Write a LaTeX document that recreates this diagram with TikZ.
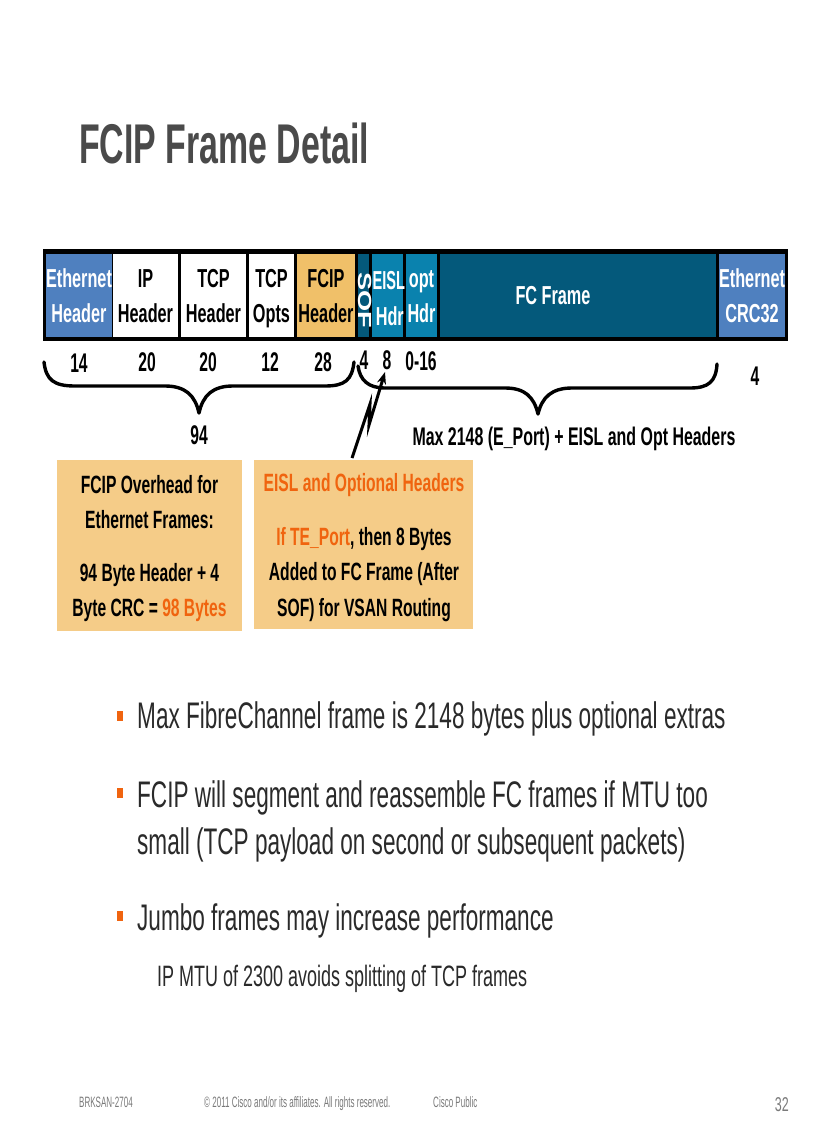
\documentclass[tikz,border=0pt]{standalone}
\usepackage{fontspec}
\setmainfont[FakeStretch=0.625]{Liberation Sans}
\newfontfamily\titlef[FakeStretch=0.605]{Liberation Sans}
\newfontfamily\cellf[FakeStretch=0.625]{Liberation Sans}
\newfontfamily\eislf[FakeStretch=0.56]{Liberation Sans}
\newfontfamily\numf[FakeStretch=0.58]{Liberation Sans}
\newfontfamily\bodyf[FakeStretch=0.61]{Liberation Sans}
\newfontfamily\footf[FakeStretch=0.535]{Liberation Sans}
\newfontfamily\soff[FakeStretch=1.43]{Liberation Sans}
\usetikzlibrary{arrows.meta}
\definecolor{ethblue}{HTML}{4F80BF}
\definecolor{fcteal}{HTML}{04597B}
\definecolor{eislblue}{HTML}{0A82AE}
\definecolor{fciptan}{HTML}{F0C069}
\definecolor{notetan}{HTML}{F5CC88}
\definecolor{hiorange}{HTML}{F0640F}
\definecolor{titlegrey}{HTML}{4A4A4A}
\definecolor{bodygrey}{HTML}{2A2A2A}
\definecolor{footgrey}{HTML}{7A7A7A}
\tikzset{
 cell/.style={anchor=north west,inner sep=0pt,outer sep=0pt,align=center,font=\cellf\fontsize{26}{35}\bfseries\selectfont},
 num/.style={font=\numf\fontsize{27}{28}\bfseries\selectfont,inner sep=0pt},
 note/.style={anchor=north west,inner sep=0pt,outer sep=0pt,fill=notetan,align=center,text=black},
 notefont/.style={font=\fontsize{25}{35.5}\bfseries\selectfont},
 bullettext/.style={anchor=west,inner sep=0pt,align=left,text=bodygrey,font=\bodyf\fontsize{37}{47}\selectfont},
 bulletmark/.style={fill=hiorange,minimum width=6pt,minimum height=10pt,inner sep=0pt},
 foot/.style={anchor=west,inner sep=0pt,text=footgrey,font=\footf\fontsize{15}{18}\selectfont},
 bracepath/.style={line width=3.4pt,line cap=round,line join=round}
}
\newcommand{\topl}{\rule{0pt}{24pt}}
\newcommand{\botl}{\vphantom{p}}
\newcommand{\cellbox}[6]{%
 \node[cell,fill=#4,text=#5,minimum width=#3pt-#2pt,minimum height=82.5pt] (#1) at (#2,254) {#6};}
\begin{document}
\begin{tikzpicture}[x=1pt,y=-1pt]
\useasboundingbox (0,0) rectangle (816,1123);
\fill[white] (0,0) rectangle (816,1123);
\node[anchor=west,inner sep=0pt,text=titlegrey,font=\titlef\fontsize{56}{60}\bfseries\selectfont] (title) at (79,143) {FCIP Frame Detail};
\node[anchor=north west,inner sep=0pt,outer sep=0pt,fill=black,minimum width=745pt,minimum height=92pt] (frame) at (43,249) {};
\cellbox{eth}{46}{111}{ethblue}{white}{\topl Ethernet\\Header\botl}
\cellbox{ip}{113}{178}{white}{black}{\topl IP\\Header\botl}
\cellbox{tcp}{181}{246}{white}{black}{\topl TCP\\Header\botl}
\cellbox{opts}{249}{294}{white}{black}{\topl TCP\\Opts\botl}
\cellbox{fcip}{297}{355}{fciptan}{black}{\topl FCIP\\Header\botl}
\cellbox{sof}{358}{369}{fcteal}{white}{}
\node[rotate=-90,text=white,inner sep=0pt,font=\soff\fontsize{19}{24}\bfseries\selectfont] (soft) at (365,300) {SOF};
\cellbox{eisl}{372}{403}{eislblue}{white}{}
\node[text=white,inner sep=0pt,anchor=base west,font=\eislf\fontsize{26}{35}\bfseries\selectfont] (eislt) at (372.5,289) {EISL};
\node[text=white,inner sep=0pt,anchor=base east,font=\cellf\fontsize{26}{35}\bfseries\selectfont] (hdrt) at (404,325) {Hdr};
\fill[black] (404,336) rectangle (439,341);
\cellbox{opt}{406}{437}{eislblue}{white}{\topl opt\\Hdr\botl}
\cellbox{fc}{440}{716}{fcteal}{white}{}
\node[text=white,inner sep=0pt,font=\cellf\fontsize{26}{28}\bfseries\selectfont] (fct) at (553,296) {FC Frame};
\cellbox{crc}{719}{785}{ethblue}{white}{\topl Ethernet\\CRC32\botl}
\node[num] (n14) at (79,363) {14};
\node[num] (n20a) at (147,362) {20};
\node[num] (n20b) at (208,362) {20};
\node[num] (n12) at (270,362) {12};
\node[num] (n28) at (323,362) {28};
\node[num] (n4a) at (364,360) {4};
\node[num] (n8) at (387,360) {8};
\node[num] (n016) at (421,361) {0-16};
\node[num] (n4b) at (755,376) {4};
\node[num] (n94) at (199,435) {94};
\node[inner sep=0pt,font=\fontsize{25.5}{28}\bfseries\selectfont] (nmax) at (574,439) {Max 2148 (E\_Port) + EISL and Opt Headers};
\coordinate (bl1) at (44,362);
\coordinate (bl2) at (199,413);
\coordinate (bl3) at (354,362);
\draw[bracepath] (bl1) .. controls (46,380) and (54,386) .. (75,386) -- (165,386) .. controls (185,386) and (195,395) .. (bl2) .. controls (203,395) and (213,386) .. (233,386) -- (325,386) .. controls (345,386) and (352,380) .. (bl3);
\coordinate (br1) at (358,366);
\coordinate (br2) at (538,414);
\coordinate (br3) at (717,364);
\draw[bracepath] (br1) .. controls (360,380) and (368,388) .. (385,388) -- (505,388) .. controls (525,388) and (534,397) .. (br2) .. controls (542,397) and (552,388) .. (572,388) -- (690,388) .. controls (708,388) and (716,382) .. (br3);
\node[note,minimum width=185pt,minimum height=171pt] (noteA) at (57,460) {};
\node[note,minimum width=219pt,minimum height=169pt] (noteB) at (254,460) {};
\node[anchor=north,inner sep=0pt,align=center,notefont] (noteAa) at (149.5,475) {FCIP Overhead for\\Ethernet Frames:};
\node[anchor=north,inner sep=0pt,align=center,notefont] (noteAb) at (149.5,563) {94 Byte Header + 4\\Byte CRC = \textcolor{hiorange}{98 Bytes}};
\node[anchor=north,inner sep=0pt,align=center,notefont,text=hiorange] (noteBa) at (364,473) {EISL and Optional Headers};
\node[anchor=north,inner sep=0pt,align=center,notefont] (noteBb) at (364,527) {\textcolor{hiorange}{If TE\_Port}, then 8 Bytes\\Added to FC Frame (After\\SOF) for VSAN Routing};
\coordinate (ltop) at (352,458);
\coordinate (ltip) at (385,372);
\draw[line width=3pt,line join=miter,-{Stealth[length=12pt,width=9pt]}] (ltop) -- (370,404) -- (369,425) -- (ltip);
\node[bulletmark] (b1) at (120,716) {};
\node[bullettext] (t1) at (137,719) {Max FibreChannel frame is 2148 bytes plus optional extras};
\node[bulletmark] (b2) at (120,793) {};
\node[bullettext] (t2) at (137,821) {FCIP will segment and reassemble FC frames if MTU too\\small (TCP payload on second or subsequent packets)};
\node[bulletmark] (b3) at (120,916) {};
\node[bullettext] (t3) at (137,921) {Jumbo frames may increase performance};
\node[anchor=west,inner sep=0pt,text=bodygrey,font=\bodyf\fontsize{29.5}{32}\selectfont] (t4) at (157,979) {IP MTU of 2300 avoids splitting of TCP frames};
\node[foot] (f1) at (79,1102) {BRKSAN-2704};
\node[foot] (f2) at (204,1103.5) {© 2011 Cisco and/or its affiliates. All rights reserved.};
\node[foot] (f3) at (433,1102) {Cisco Public};
\node[anchor=east,inner sep=0pt,text=footgrey,font=\fontsize{20}{22}\selectfont] (pg) at (789,1105) {32};
\end{tikzpicture}
\end{document}
